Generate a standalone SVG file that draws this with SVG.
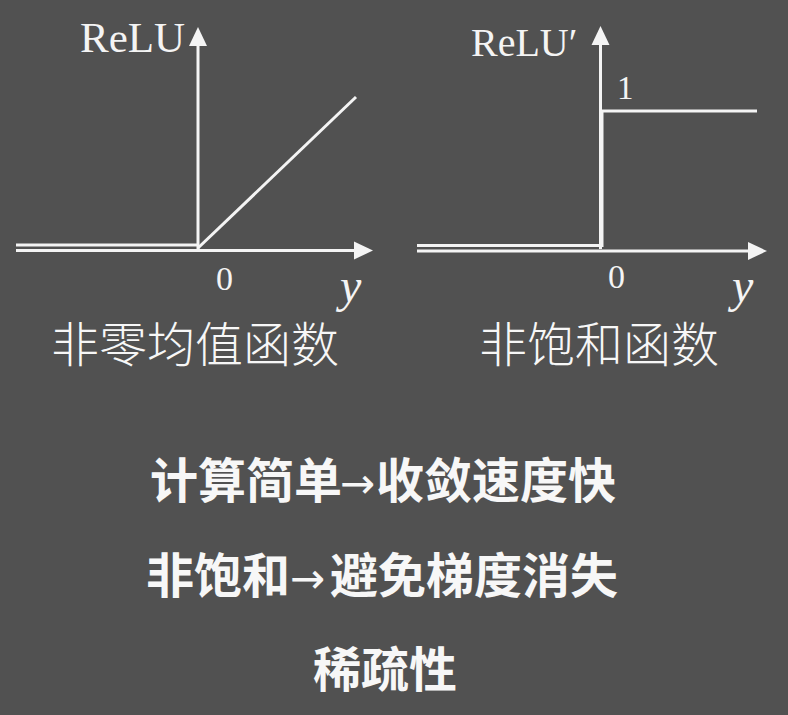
<svg xmlns="http://www.w3.org/2000/svg" width="788" height="715" viewBox="0 0 788 715">
  <style>
    .ln { stroke: #f4f4f4; stroke-width: 3; fill: none; }
    .ser { font-family: "Liberation Serif", "DejaVu Serif", serif; fill: #f4f4f4; }
    .it { font-style: italic; }
    .cjk { font-family: "Noto Sans CJK SC", "Noto Sans", sans-serif; fill: #f7f7f7; }
    .lab { font-size: 48px; font-weight: 300; }
    .big { font-size: 48px; font-weight: 700; }
    .arw { font-family: "DejaVu Sans", sans-serif; font-size: 42px; font-weight: 400; }
  </style>
  <defs>
    <marker id="arr" markerUnits="userSpaceOnUse" markerWidth="19" markerHeight="19" refX="0" refY="9" orient="auto" viewBox="0 0 19 18">
      <path d="M0,0 L19,9 L0,18 Z" fill="#f4f4f4"/>
    </marker>
  </defs>
  <rect x="0" y="0" width="788" height="715" fill="#515151"/>

  <g id="plot-relu">
    <g id="axes-left">
      <line class="ln" x1="16" y1="250.5" x2="354" y2="250.5" marker-end="url(#arr)"/>
      <line class="ln" x1="198" y1="249" x2="198" y2="46" marker-end="url(#arr)"/>
    </g>
    <g id="curve-left">
      <polyline class="ln" points="16,245 198,245"/>
      <line class="ln" x1="198" y1="248" x2="356" y2="97"/>
    </g>
    <text class="ser" x="80" y="52" font-size="43">ReLU</text>
    <text class="ser" x="216" y="290" font-size="34">0</text>
    <text class="ser it" x="340" y="302" font-size="48">y</text>
    <text id="label-left" class="cjk lab" x="51" y="362">非零均值函数</text>
  </g>

  <g id="plot-relu-derivative">
    <g id="axes-right">
      <line class="ln" x1="417" y1="251" x2="748" y2="251" marker-end="url(#arr)"/>
      <line class="ln" x1="600.5" y1="249" x2="600.5" y2="45" marker-end="url(#arr)"/>
    </g>
    <g id="curve-right">
      <polyline class="ln" points="417,245.5 602,245.5 602,111 757,111"/>
    </g>
    <text class="ser" x="471" y="56" font-size="40">ReLU′</text>
    <text class="ser" x="617" y="99" font-size="33">1</text>
    <text class="ser" x="608" y="288" font-size="34">0</text>
    <text class="ser it" x="732" y="302" font-size="48">y</text>
    <text id="label-right" class="cjk lab" x="479" y="362">非饱和函数</text>
  </g>

  <g id="summary">
    <text id="line1" class="cjk big" y="498"><tspan x="150">计算简单</tspan><tspan class="arw" x="340">→</tspan><tspan x="376">收敛速度快</tspan></text>
    <text id="line2" class="cjk big" y="593"><tspan x="146">非饱和</tspan><tspan class="arw" x="290">→</tspan><tspan x="330">避免梯度消失</tspan></text>
    <text id="line3" class="cjk big" x="313" y="687">稀疏性</text>
  </g>
</svg>
